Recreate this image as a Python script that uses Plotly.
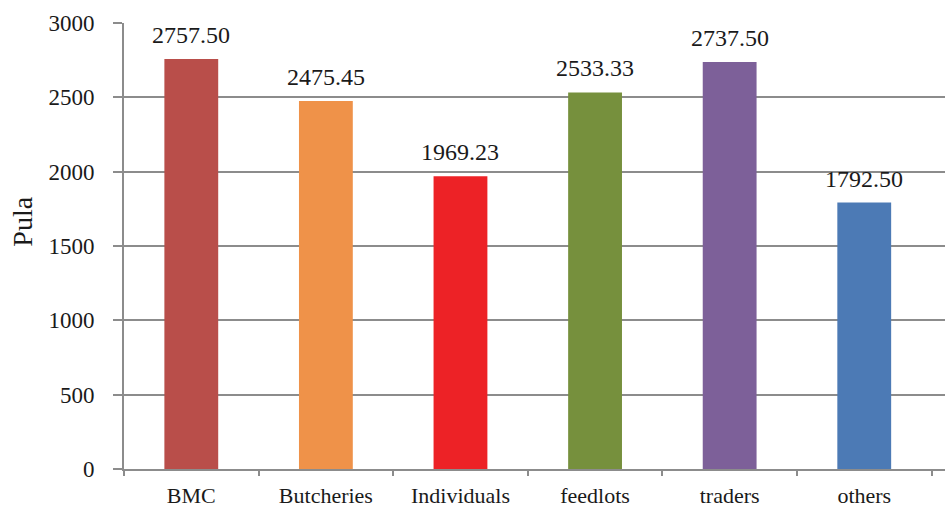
import plotly.graph_objects as go

categories = ["BMC", "Butcheries", "Individuals", "feedlots", "traders", "others"]
values = [2757.50, 2475.45, 1969.23, 2533.33, 2737.50, 1792.50]
labels = ["2757.50", "2475.45", "1969.23", "2533.33", "2737.50", "1792.50"]
colors = ["#B94E4A", "#EF9249", "#ED2226", "#76903D", "#7D6099", "#4C7AB5"]
y_ticks = [0, 500, 1000, 1500, 2000, 2500, 3000]
y_title = "Pula"

FONT = "Times New Roman, Liberation Serif, DejaVu Serif, serif"
GRID = "#8C8C8C"
TXT = "#1a1a1a"

fig = go.Figure()
fig.add_trace(go.Bar(
    x=categories, y=values,
    marker=dict(color=colors, line=dict(width=0)),
    showlegend=False,
))

for c, v, t in zip(categories, values, labels):
    fig.add_annotation(
        x=c, y=v, text=t, showarrow=False, yanchor="bottom",
        yshift=9, font=dict(family=FONT, size=24, color=TXT),
    )

fig.add_annotation(
    xref="paper", yref="paper", x=-0.124, y=0.555, text=y_title,
    textangle=-90, showarrow=False, xanchor="center", yanchor="middle",
    font=dict(family=FONT, size=28, color=TXT),
)

fig.update_layout(
    width=945, height=508,
    margin=dict(l=124, r=0, t=23, b=39, autoexpand=False),
    paper_bgcolor="white", plot_bgcolor="white",
    bargap=0.6,
    font=dict(family=FONT, color=TXT),
)
fig.update_xaxes(
    range=[-0.5, 5.6], automargin=False,
    showline=True, linecolor=GRID, linewidth=2,
    ticks="outside", tickson="boundaries", ticklen=5, tickwidth=2, tickcolor=GRID,
    tickfont=dict(family=FONT, size=22, color=TXT),
    ticklabelstandoff=6,
    showgrid=False,
)
fig.update_yaxes(
    range=[0, 3000], tickvals=y_ticks, automargin=False,
    showline=True, linecolor=GRID, linewidth=2,
    ticks="outside", ticklen=9, tickwidth=2, tickcolor=GRID,
    showgrid=True, gridcolor=GRID, gridwidth=2,
    zeroline=False,
    tickfont=dict(family=FONT, size=23, color=TXT),
    ticklabelstandoff=14,
)

fig.write_html("out.html")
